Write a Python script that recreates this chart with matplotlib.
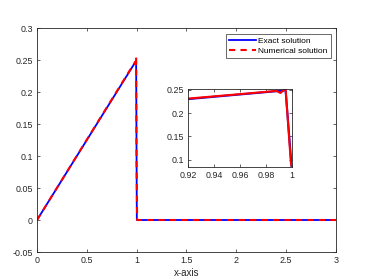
import matplotlib
matplotlib.use('Agg')
import matplotlib.pyplot as plt

plt.rcParams['font.family'] = ['Liberation Sans', 'DejaVu Sans']

# exact solution (sampled)
exact_x = [0.0, 0.92, 0.995, 1.002, 3.0]
exact_y = [0.0, 0.23, 0.24875, 0.0, 0.0]

# numerical solution
num_x = [0.0, 0.92, 0.988, 0.991, 0.995, 0.999, 1.005, 3.0]
num_y = [0.0, 0.231, 0.2475, 0.2432, 0.2525, 0.095, 0.0, 0.0]

xticks = [0, 0.5, 1, 1.5, 2, 2.5, 3]
xticklabels = ['0', '0.5', '1', '1.5', '2', '2.5', '3']
yticks = [-0.05, 0, 0.05, 0.1, 0.15, 0.2, 0.25, 0.3]
yticklabels = ['-0.05', '0', '0.05', '0.1', '0.15', '0.2', '0.25', '0.3']

in_xticks = [0.92, 0.94, 0.96, 0.98, 1.0]
in_xticklabels = ['0.92', '0.94', '0.96', '0.98', '1']
in_yticks = [0.1, 0.15, 0.2, 0.25]
in_yticklabels = ['0.1', '0.15', '0.2', '0.25']

grey = '#262626'


def style(ax):
    for s in ax.spines.values():
        s.set_color(grey)
        s.set_linewidth(0.6)
    ax.tick_params(direction='in', top=True, right=True, length=2.5, width=0.5,
                   colors=grey, labelsize=6.4, labelcolor=grey, pad=3)


fig = plt.figure(figsize=(3.74, 2.80), dpi=100)
ax = fig.add_axes([0.099, 0.1, 0.799, 0.8])
ax.plot(exact_x, exact_y, color='b', lw=1.3, label='Exact solution')
ax.plot(num_x, num_y, color='r', lw=1.5, ls=(0, (3, 2.5)), label='Numerical solution')
ax.set_xlim(0, 3)
ax.set_ylim(-0.05, 0.3)
ax.set_xticks(xticks)
ax.set_xticklabels(xticklabels)
ax.set_yticks(yticks)
ax.set_yticklabels(yticklabels)
ax.set_xlabel('x-axis', fontsize=7, color=grey, labelpad=2)
style(ax)
leg = ax.legend(loc='upper right', fontsize=6, frameon=True, fancybox=False,
                edgecolor=grey, handlelength=3.3, handletextpad=0.25,
                borderpad=0.35, labelspacing=0.3, borderaxespad=0,
                bbox_to_anchor=(0.983, 0.973))
leg.get_frame().set_linewidth(0.6)

axi = fig.add_axes([0.503, 0.404, 0.278, 0.279])
axi.plot(exact_x, exact_y, color='b', lw=1.5)
axi.plot(num_x, num_y, color='r', lw=1.5)
axi.set_xlim(0.92, 1.0)
axi.set_ylim(0.0842, 0.2522)
axi.set_xticks(in_xticks)
axi.set_xticklabels(in_xticklabels)
axi.set_yticks(in_yticks)
axi.set_yticklabels(in_yticklabels)
style(axi)

fig.savefig('out.png', dpi=100)
